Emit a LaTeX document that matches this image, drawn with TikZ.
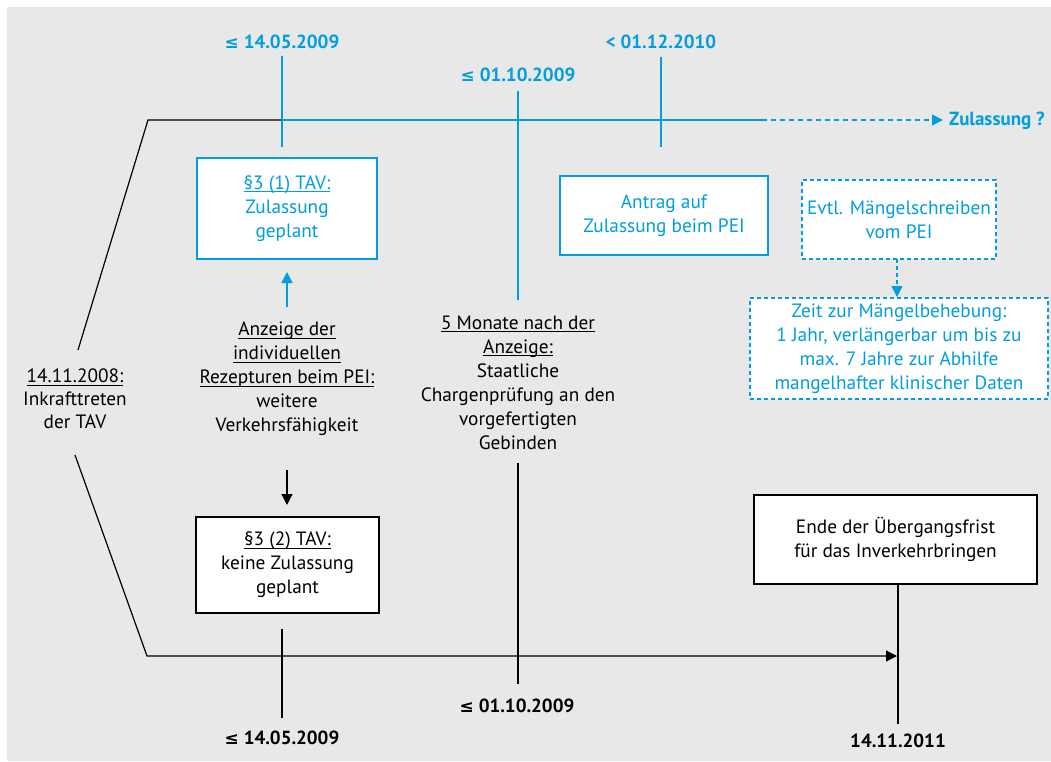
\documentclass[tikz,border=0pt]{standalone}
\usepackage{fontspec}
\setmainfont{PT Sans}
\newfontfamily\symf{DejaVu Sans}
\usetikzlibrary{arrows.meta}
\definecolor{pblue}{RGB}{0,158,224}
\definecolor{bggray}{RGB}{232,232,232}
\newcommand\ulx[1]{\setbox0\hbox{#1}\rlap{\rule[-2.6pt]{\wd0}{0.8pt}}\box0}
\newcommand\leqs{{\symf\fontsize{17}{23}\selectfont ≤}}
\begin{document}
\begin{tikzpicture}[x=1pt,y=-1pt,
  txt/.style={font=\fontsize{19.3}{24}\selectfont, align=center, inner sep=0pt},
  lbl/.style={font=\fontsize{19}{23}\selectfont\bfseries, inner sep=0pt},
  boxk/.style={draw=black, fill=white, line width=1.2pt, txt},
  boxb/.style={draw=pblue, fill=white, line width=1.4pt, txt, text=pblue},
  boxd/.style={boxb, dash pattern=on 4pt off 3pt},
  bline/.style={draw=pblue, line width=1.4pt},
  kline/.style={draw=black, line width=1.2pt},
  tip/.style={-{Triangle[length=11pt,width=11pt]}}
]
\useasboundingbox (0,0) rectangle (1051,762);
\fill[white] (0,0) rectangle (1051,762);
\fill[bggray] (7,7) rectangle (1051,761);

% labels
\node[lbl,text=pblue] (l1) at (282,42) {\leqs\ 14.05.2009};
\node[lbl,text=pblue] (l2) at (518,75) {\leqs\ 01.10.2009};
\node[lbl,text=pblue] (l3) at (661,42) {< 01.12.2010};
\node[lbl] (l4) at (282,738) {\leqs\ 14.05.2009};
\node[lbl] (l5) at (517,706) {\leqs\ 01.10.2009};
\node[lbl] (l6) at (898,741) {14.11.2011};
\node[lbl,text=pblue,anchor=west] (zul) at (949,121) {Zulassung ?};

% boxes
\node[boxb, minimum width=180pt, minimum height=101pt] (b1) at (287,208.5)
  {\ulx{§3 (1) TAV:}\\Zulassung\\geplant};
\node[boxk, minimum width=183pt, minimum height=96pt] (b2) at (287.5,565)
  {\ulx{§3 (2) TAV:}\\keine Zulassung\\geplant};
\node[boxb, minimum width=208pt, minimum height=79pt] (b3) at (664,215.5)
  {Antrag auf\\Zulassung beim PEI};
\node[boxd, minimum width=194pt, minimum height=79pt] (b4) at (899,219.5)
  {Evtl. Mängelschreiben\\vom PEI};
\node[boxd, minimum width=298pt, minimum height=101pt] (b5) at (899,348.5)
  {Zeit zur Mängelbehebung:\\1 Jahr, verlängerbar um bis zu\\max. 7 Jahre zur Abhilfe\\mangelhafter klinischer Daten};
\node[boxk, minimum width=283pt, minimum height=89pt] (b6) at (895.5,539.5)
  {Ende der Übergangsfrist\\für das Inverkehrbringen};

% free texts
\node[txt, font=\fontsize{19.3}{23}\selectfont] (t1) at (75,399)
  {\ulx{14.11.2008:}\\Inkrafttreten\\der TAV};
\node[txt] (t2) at (287,379)
  {\ulx{Anzeige der}\\\ulx{individuellen}\\\ulx{Rezepturen beim PEI:}\\weitere\\Verkehrsfähigkeit};
\node[txt] (t3) at (518,383)
  {\ulx{5 Monate nach der}\\\ulx{Anzeige:}\\Staatliche\\Chargenprüfung an den\\vorgefertigten\\Gebinden};

% coordinates
\coordinate (a1) at (78,350);
\coordinate (a2) at (148,120);
\coordinate (a3) at (282,120);
\coordinate (a4) at (762,120);
\coordinate (a5) at (943,120);
\coordinate (d1) at (75,455);
\coordinate (d2) at (147,656);
\coordinate (d3) at (897,656);

% top timeline
\draw[kline] (a1) -- (a2) -- (a3);
\draw[bline] (a3) -- (a4);
\draw[bline, dash pattern=on 5pt off 4pt, tip] (a4) -- (a5);
% bottom timeline
\draw[kline, tip] (d1) -- (d2) -- (d3);

% vertical ticks
\draw[bline] (282,56) coordinate (v1a) -- (282,147) coordinate (v1b);
\draw[bline] (518,91) coordinate (v2a) -- (518,300) coordinate (v2b);
\draw[bline] (661,57) coordinate (v3a) -- (661,147) coordinate (v3b);
\draw[kline] (518,463) coordinate (v4a) -- (518,684) coordinate (v4b);
\draw[kline] (282,629) coordinate (v5a) -- (282,718) coordinate (v5b);
\draw[kline] (898,584) coordinate (v6a) -- (898,724) coordinate (v6b);

% arrows
\draw[bline, tip] (287,307) coordinate (p1) -- (287,272) coordinate (p2);
\draw[kline, tip] (287,470) coordinate (p3) -- (287,505) coordinate (p4);
\draw[bline, dash pattern=on 4pt off 3pt, tip] (897,259) coordinate (p5) -- (897,297) coordinate (p6);
\end{tikzpicture}
\end{document}
